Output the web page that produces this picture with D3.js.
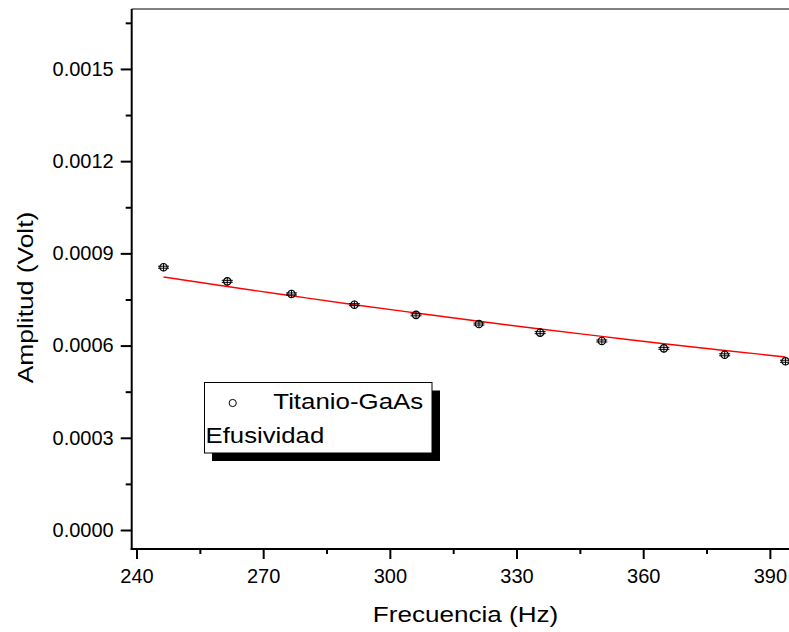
<!DOCTYPE html>
<html>
<head>
<meta charset="utf-8">
<script src="https://cdn.jsdelivr.net/npm/d3@7"></script>
<style>
  html, body { margin: 0; padding: 0; background: #fff; }
  svg { display: block; font-family: "Liberation Sans", Arial, Helvetica, sans-serif; }
</style>
</head>
<body>
<svg id="chart" width="789" height="632"></svg>
<script>
// Measured amplitude vs. modulation frequency
const frequencies = [246.4, 261.5, 276.7, 291.6, 306.2, 321.1, 335.6, 350.2, 364.9, 379.3, 393.7];
const amplitudes  = [0.000855, 0.000809, 0.000768, 0.000733, 0.000700, 0.000670, 0.000642, 0.000615, 0.000591, 0.000570, 0.000549];
// Fitted curve evaluated at the same frequencies
const fitValues   = [0.000823, 0.000792, 0.000762, 0.000733, 0.000706, 0.000679, 0.000654, 0.000630, 0.000606, 0.000584, 0.000563];

const xTicks = [240, 270, 300, 330, 360, 390];
const xMinorTicks = [255, 285, 315, 345, 375];
const yTicks = [0.0000, 0.0003, 0.0006, 0.0009, 0.0012, 0.0015];
const yMinorTicks = [0.00015, 0.00045, 0.00075, 0.00105, 0.00135, 0.00165];

const seriesName = "Titanio-GaAs";
const legendNote = "Efusividad";
const xTitle = "Frecuencia (Hz)";
const yTitle = "Amplitud (Volt)";

const svg = d3.select("#chart");
const plotLeft = 131.7, plotRight = 799, plotTop = 9, plotBottom = 549;

const x = d3.scaleLinear().domain([238.86, 396.9]).range([plotLeft, plotRight]);
const y = d3.scaleLinear().domain([-0.0000618, 0.001695]).range([plotBottom, plotTop]);

// top frame line
svg.append("line")
  .attr("x1", plotLeft).attr("x2", plotRight).attr("y1", plotTop).attr("y2", plotTop)
  .attr("stroke", "#808080").attr("stroke-width", 2);

// axes
const xAxis = svg.append("g").attr("transform", `translate(0,${plotBottom})`)
  .call(d3.axisBottom(x).tickValues(xTicks).tickFormat(d3.format("d")).tickSize(10).tickPadding(10));
const xMinor = svg.append("g").attr("transform", `translate(0,${plotBottom})`)
  .call(d3.axisBottom(x).tickValues(xMinorTicks).tickFormat("").tickSize(5));
const yAxis = svg.append("g").attr("transform", `translate(${plotLeft},0)`)
  .call(d3.axisLeft(y).tickValues(yTicks).tickFormat(d3.format(".4f")).tickSize(11).tickPadding(7));
const yMinor = svg.append("g").attr("transform", `translate(${plotLeft},0)`)
  .call(d3.axisLeft(y).tickValues(yMinorTicks).tickFormat("").tickSize(6));

[xAxis, xMinor, yAxis, yMinor].forEach(g => {
  g.select(".domain").remove();
  g.selectAll(".tick line").attr("stroke", "#000").attr("stroke-width", 2);
  g.selectAll(".tick text").attr("fill", "#000").style("font-size", "20px")
    .style("font-family", "'Liberation Sans', Arial, sans-serif");
});

svg.append("line").attr("x1", plotLeft - 1).attr("x2", plotRight).attr("y1", plotBottom).attr("y2", plotBottom)
  .attr("stroke", "#000").attr("stroke-width", 2);
svg.append("line").attr("x1", plotLeft).attr("x2", plotLeft).attr("y1", plotTop).attr("y2", plotBottom + 1)
  .attr("stroke", "#000").attr("stroke-width", 2);

// fitted curve
const line = d3.line().x((d, i) => x(frequencies[i])).y(d => y(d)).curve(d3.curveMonotoneX);
svg.append("path").datum(fitValues)
  .attr("d", line).attr("fill", "none").attr("stroke", "#ff0000").attr("stroke-width", 1.4);

// data markers: open circle with small error bars
const pts = svg.append("g").selectAll("g").data(amplitudes).join("g")
  .attr("transform", (d, i) => `translate(${x(frequencies[i])},${y(d)})`);
pts.append("circle").attr("r", 3.7).attr("fill", "none").attr("stroke", "#000").attr("stroke-width", 1.2);
pts.append("line").attr("x1", 0).attr("x2", 0).attr("y1", -4).attr("y2", 4).attr("stroke", "#000").attr("stroke-width", 1);
pts.append("line").attr("x1", -5.5).attr("x2", 5.5).attr("y1", -1).attr("y2", -1).attr("stroke", "#000").attr("stroke-width", 1);
pts.append("line").attr("x1", -5.5).attr("x2", 5.5).attr("y1", 1).attr("y2", 1).attr("stroke", "#000").attr("stroke-width", 1);

// axis titles
svg.append("text").attr("text-anchor", "middle")
  .style("font-size", "22px").attr("transform", "translate(465.5,621.5) scale(1.185,1)")
  .text(xTitle);
svg.append("text").attr("text-anchor", "middle")
  .style("font-size", "22px")
  .attr("transform", "translate(33,297.5) rotate(-90) scale(1.2,1)")
  .text(yTitle);

// legend
const lg = svg.append("g");
lg.append("rect").attr("x", 212).attr("y", 390.5).attr("width", 228).attr("height", 70.5).attr("fill", "#000");
lg.append("rect").attr("x", 204.5).attr("y", 382.5).attr("width", 227.5).attr("height", 70.5)
  .attr("fill", "#fff").attr("stroke", "#000").attr("stroke-width", 1);
lg.append("circle").attr("cx", 232.7).attr("cy", 403).attr("r", 3.6)
  .attr("fill", "none").attr("stroke", "#000").attr("stroke-width", 1);
lg.append("text").attr("transform", "translate(273.3,409) scale(1.175,1)")
  .style("font-size", "22px").text(seriesName);
lg.append("text").attr("transform", "translate(205.5,442.7) scale(1.17,1)")
  .style("font-size", "22px").text(legendNote);
</script>
</body>
</html>
